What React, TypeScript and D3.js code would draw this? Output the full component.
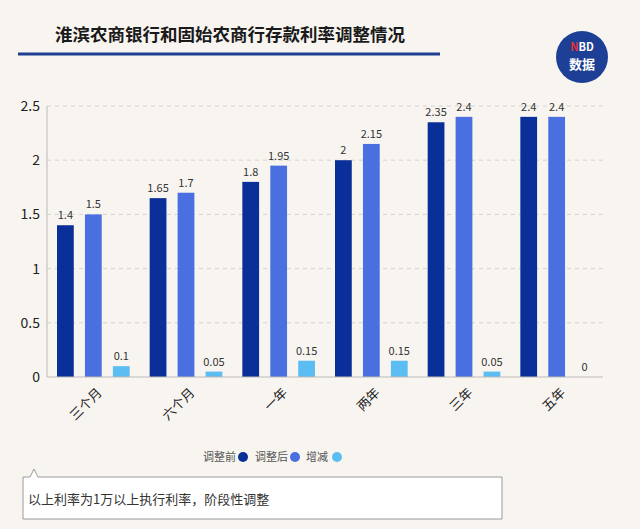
import { useEffect, useRef } from 'react'
import * as d3 from 'd3'

const categories = ['三个月', '六个月', '一年', '两年', '三年', '五年']
const seriesNames = ['调整前', '调整后', '增减']
const before = [1.4, 1.65, 1.8, 2, 2.35, 2.4]
const after = [1.5, 1.7, 1.95, 2.15, 2.4, 2.4]
const change = [0.1, 0.05, 0.15, 0.15, 0.05, 0]
const yTicks = [0, 0.5, 1, 1.5, 2, 2.5]
const colors = ['#0b2f98', '#4a6fe0', '#5cbdf2']

const title = '淮滨农商银行和固始农商行存款利率调整情况'
const note = '以上利率为1万以上执行利率，阶段性调整'

const W = 640
const H = 529

export default function App() {
  const svgRef = useRef<SVGSVGElement>(null)

  useEffect(() => {
    document.body.style.margin = '0'
    if (!svgRef.current) return
    const svg = d3.select(svgRef.current)
    svg.selectAll('*').remove()

    const font = '"Noto Sans CJK SC", "Noto Sans", sans-serif'

    svg.append('rect').attr('width', W).attr('height', H).attr('fill', '#f8f5f1')

    // header
    svg.append('text')
      .attr('x', 55).attr('y', 35).attr('dy', '0.35em')
      .style('font-family', font).style('font-size', '17.5px').style('font-weight', 'bold')
      .attr('fill', '#1a1a1a')
      .text(title)
    svg.append('line')
      .attr('x1', 18).attr('x2', 440).attr('y1', 54).attr('y2', 54)
      .attr('stroke', '#1f3f92').attr('stroke-width', 3)

    const logo = svg.append('g').attr('transform', 'translate(582,57)')
    logo.append('circle').attr('r', 26).attr('fill', '#1d3f95')
    const nbd = logo.append('text')
      .attr('text-anchor', 'middle').attr('y', -6)
      .style('font-family', font).style('font-size', '11px').style('font-weight', 'bold')
    nbd.append('tspan').attr('fill', '#e8302e').text('N')
    nbd.append('tspan').attr('fill', '#fff').text('BD')
    logo.append('text')
      .attr('text-anchor', 'middle').attr('y', 12)
      .style('font-family', font).style('font-size', '13px').style('font-weight', 'bold')
      .attr('fill', '#fff').text('数据')

    // chart
    const left = 47, right = 603, top = 106, bottom = 377
    const y = d3.scaleLinear().domain([0, 2.5]).range([bottom, top])
    const x0 = d3.scaleBand<string>().domain(categories).range([left, right]).padding(0)
    const x1 = d3.scaleBand<string>().domain(seriesNames)
      .range([10, x0.bandwidth() - 10]).paddingInner(0.4).paddingOuter(0)

    const g = svg.append('g')

    g.selectAll('.grid').data(yTicks.filter(t => t > 0)).enter().append('line')
      .attr('x1', left).attr('x2', right)
      .attr('y1', d => y(d)).attr('y2', d => y(d))
      .attr('stroke', '#d6d3cf').attr('stroke-dasharray', '4,4')

    g.selectAll('.ytick').data(yTicks).enter().append('text')
      .attr('x', 40).attr('y', d => y(d)).attr('dy', '0.35em')
      .attr('text-anchor', 'end')
      .style('font-family', font).style('font-size', '14px')
      .attr('fill', '#222')
      .text(d => String(d))

    const series = [before, after, change]
    series.forEach((vals, si) => {
      const name = seriesNames[si]
      g.selectAll(`.bar${si}`).data(vals).enter().append('rect')
        .attr('x', (_, i) => (x0(categories[i]) ?? 0) + (x1(name) ?? 0))
        .attr('y', d => y(d))
        .attr('width', x1.bandwidth())
        .attr('height', d => bottom - y(d))
        .attr('fill', colors[si])
      g.selectAll(`.lab${si}`).data(vals).enter().append('text')
        .attr('x', (_, i) => (x0(categories[i]) ?? 0) + (x1(name) ?? 0) + x1.bandwidth() / 2)
        .attr('y', d => y(d) - 6)
        .attr('text-anchor', 'middle')
        .style('font-family', font).style('font-size', '11px')
        .attr('fill', '#333')
        .text(d => String(d))
    })

    // axes lines
    g.append('line').attr('x1', left).attr('x2', left).attr('y1', top).attr('y2', bottom)
      .attr('stroke', '#bdbab6')
    g.append('line').attr('x1', left).attr('x2', right).attr('y1', bottom).attr('y2', bottom)
      .attr('stroke', '#bdbab6')

    g.selectAll('.xlab').data(categories).enter().append('text')
      .attr('transform', d => `translate(${(x0(d) ?? 0) + x0.bandwidth() / 2 + 3},${bottom + 10}) rotate(-45)`)
      .attr('text-anchor', 'end').attr('dy', '0.7em')
      .style('font-family', font).style('font-size', '13px')
      .attr('fill', '#222')
      .text(d => d)

    // legend
    const legendX = [203, 255, 306]
    const legendDot = [238, 290, 332]
    seriesNames.forEach((n, i) => {
      svg.append('text')
        .attr('x', legendX[i]).attr('y', 457).attr('dy', '0.35em')
        .style('font-family', font).style('font-size', '11px')
        .attr('fill', '#555').text(n)
      svg.append('circle').attr('cx', legendDot[i] + 5).attr('cy', 457).attr('r', 5)
        .attr('fill', colors[i])
    })

    // note box with notch
    const bx0 = 23, bx1 = 502, by0 = 477, by1 = 519
    svg.append('path')
      .attr('d', `M${bx0},${by0} L${30},${by0} L${34},${469} L${38},${by0} L${bx1},${by0} L${bx1},${by1} L${bx0},${by1} Z`)
      .attr('fill', '#fff').attr('stroke', '#9a9a9a').attr('stroke-width', 1)
    svg.append('text')
      .attr('x', 28).attr('y', 499).attr('dy', '0.35em')
      .style('font-family', font).style('font-size', '13px')
      .attr('fill', '#333').text(note)
  }, [])

  return <svg ref={svgRef} width={W} height={H} style={{ display: 'block' }} />
}
